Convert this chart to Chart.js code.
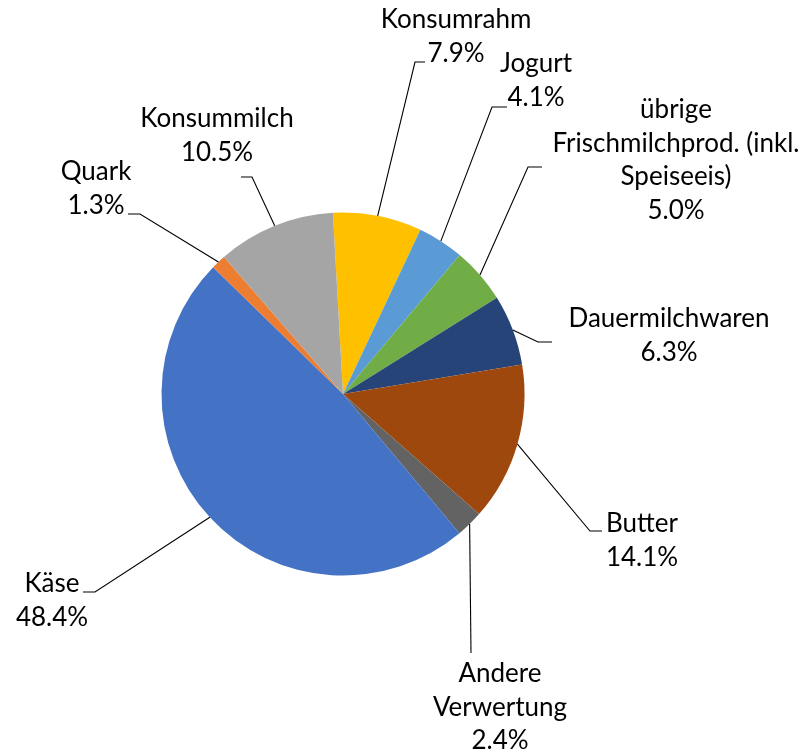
<!DOCTYPE html>
<html>
<head>
<meta charset="utf-8">
<script src="https://cdn.jsdelivr.net/npm/chart.js@4/dist/chart.umd.min.js"></script>
<style>
    html, body { margin: 0; padding: 0; background: #fff; }
    #wrap { width: 808px; height: 755px; }
</style>
</head>
<body>
<div id="wrap"><canvas id="milkChart"></canvas></div>
<script>
// data, clockwise from the top
const categories = ['Konsumrahm', 'Jogurt', 'übrige Frischmilchprod. (inkl. Speiseeis)', 'Dauermilchwaren', 'Butter', 'Andere Verwertung', 'Käse', 'Quark', 'Konsummilch'];
const shares = [7.9, 4.1, 5.0, 6.3, 14.1, 2.4, 48.4, 1.3, 10.5];

const colors = ['#FFC000', '#5B9BD5', '#70AD47', '#264478', '#9E480E', '#636363', '#4472C4', '#ED7D31', '#A5A5A5'];

// label placement: words per line, text centre x, first baseline, leader elbow and end
const labelLayout = [
    { words: [1], x: 456, y: 28, elbow: [415, 62], end: 425 },
    { words: [1], x: 536, y: 72, elbow: [492, 107], end: 507 },
    { words: [1, 2, 1], x: 676, y: 118, elbow: [528, 167], end: 542 },
    { words: [1], x: 669, y: 327, elbow: [538, 342], end: 552 },
    { words: [1], x: 642, y: 532, elbow: [590, 531], end: 602 },
    { words: [1, 1], x: 500, y: 682, elbow: [471, 653], end: 471 },
    { words: [1], x: 52, y: 592, elbow: [95, 592], end: 83 },
    { words: [1], x: 96, y: 180, elbow: [140, 214], end: 128 },
    { words: [1], x: 217, y: 127, elbow: [252, 177], end: 241 }
];

const lineH = 33.5;

function splitLines(name, counts) {
    const parts = name.split(' ');
    const out = [];
    let i = 0;
    counts.forEach(function (n) {
        out.push(parts.slice(i, i + n).join(' '));
        i += n;
    });
    return out;
}

const labelPlugin = {
    id: 'leaderLabels',
    afterDraw(chart) {
        const ctx = chart.ctx;
        const arcs = chart.getDatasetMeta(0).data;
        ctx.save();
        ctx.font = '26px Lato';
        ctx.fillStyle = '#000';
        ctx.strokeStyle = '#000';
        ctx.lineWidth = 1.1;
        ctx.textAlign = 'center';
        ctx.textBaseline = 'alphabetic';
        arcs.forEach(function (arc, i) {
            const p = arc.getProps(['x', 'y', 'startAngle', 'endAngle', 'outerRadius'], true);
            const mid = (p.startAngle + p.endAngle) / 2;
            const sx = p.x + Math.cos(mid) * p.outerRadius;
            const sy = p.y + Math.sin(mid) * p.outerRadius;
            const L = labelLayout[i];
            ctx.beginPath();
            ctx.moveTo(sx, sy);
            ctx.lineTo(L.elbow[0], L.elbow[1]);
            ctx.lineTo(L.end, L.elbow[1]);
            ctx.stroke();
            const lines = splitLines(categories[i], L.words);
            lines.push(shares[i].toFixed(1) + '%');
            lines.forEach(function (t, k) {
                ctx.fillText(t, L.x, L.y + k * lineH);
            });
        });
        ctx.restore();
    }
};

const ctx = document.getElementById('milkChart').getContext('2d');
const milkChart = new Chart(ctx, {
    type: 'pie',
    data: {
        labels: categories,
        datasets: [{
            data: shares,
            backgroundColor: colors,
            borderWidth: 0
        }]
    },
    options: {
        responsive: true,
        maintainAspectRatio: false,
        animation: false,
        rotation: -3.2,
        layout: {
            padding: { left: 161.5, right: 283.5, top: 212.5, bottom: 179.5 }
        },
        plugins: {
            legend: { display: false },
            tooltip: { enabled: false }
        },
        events: []
    },
    plugins: [labelPlugin]
});
</script>
</body>
</html>
